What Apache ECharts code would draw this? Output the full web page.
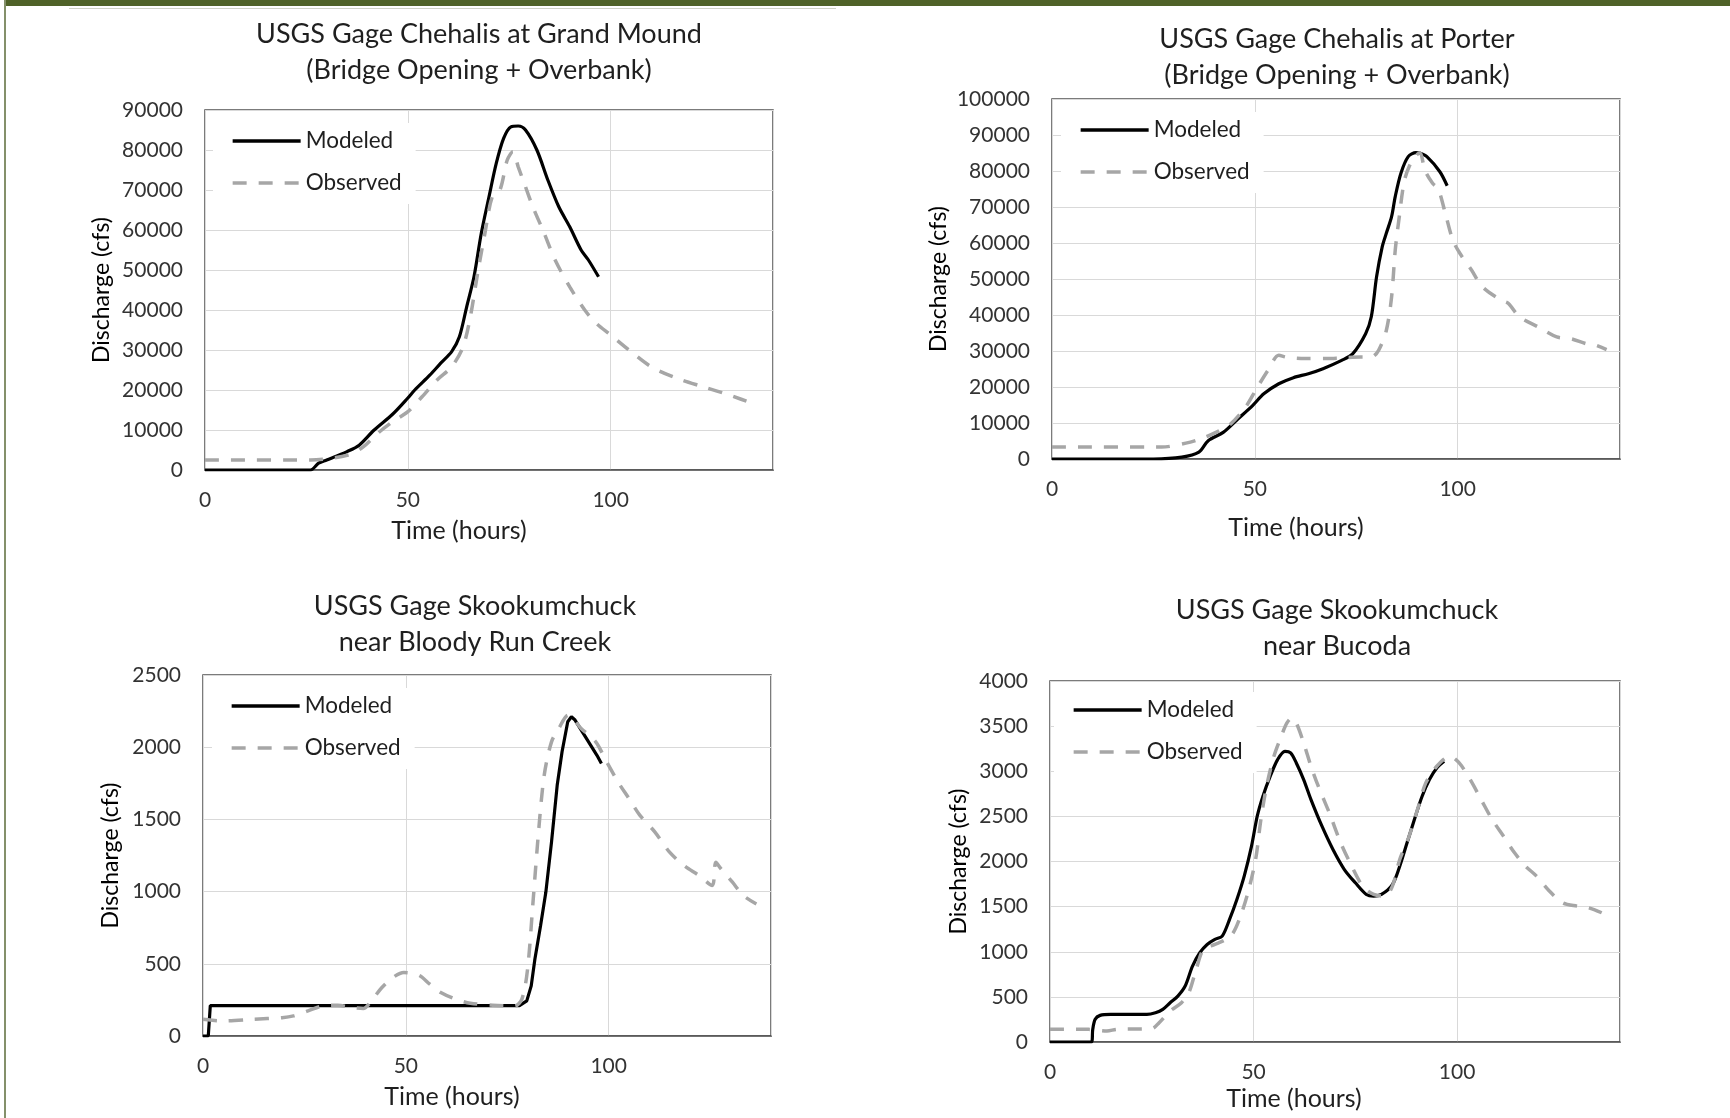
<!DOCTYPE html>
<html>
<head>
<meta charset="utf-8">
<script src="https://cdn.jsdelivr.net/npm/echarts@6/dist/echarts.min.js"></script>
<style>
html,body{margin:0;padding:0;background:#fff;}
#c{width:1730px;height:1118px;}
</style>
</head>
<body>
<div id="c"></div>
<script>
// ---------- Data (hours, cfs) ----------
// Chart 1: Chehalis at Grand Mound
const grandMoundModeledT = [0,22,26,28,30,35,38,41.7,46.3,50,51.7,55.4,58.1,60.8,62.7,64.5,66.3,68.1,70,71.8,73.6,75.4,77.2,79,81.8,84.5,87.2,89.9,92.7,94.5,97];
const grandMoundModeledQ = [0,0,0,1700,2500,4600,6200,10000,14000,18000,20000,23700,26700,29600,33300,40800,48300,59200,68300,76700,82900,85800,86000,85000,80000,72500,65800,60800,55000,52500,48300];
const grandMoundObservedT = [0,26,35.3,39,42.6,46.3,50,53.5,57.2,60.8,63.6,65.4,67.2,69,70.8,72.7,74.5,75.9,77.2,79,80.8,83.6,86.3,89.9,93.6,96.4,100,104.5,110,116.4,122.8,129.2,136];
const grandMoundObservedQ = [2500,2500,3750,5800,9200,12100,14600,18300,22500,25800,30800,38300,49200,59200,68300,70000,77500,79600,75800,70800,65800,59200,52500,45800,40000,36700,33750,30000,25800,22900,20800,18750,16250];

// Chart 2: Chehalis at Porter
const porterModeledT = [0,25,32,36.2,38.5,42.2,45.8,49.5,52.2,55.9,59.5,63.2,66.8,71.4,74.1,77.3,78.7,80,81.4,82.4,83.7,84.6,86,87.8,89.7,90.6,92.4,95.6,97.4];
const porterModeledQ = [0,0,500,1900,5100,7400,11100,14900,18100,20900,22600,23700,25100,27400,29200,34800,39500,50600,59000,62700,67300,72900,79400,84000,85100,85000,84000,79800,75900];
const porterObservedT = [0,27,33,36.7,40.4,44,47.7,50.4,53.2,55.9,57.7,62.3,67.8,71.4,76,78.7,80.5,82.4,83.7,84.6,85.6,86.9,88.8,90.6,92,93.8,95.2,97,98.8,100.6,103.4,106.1,110.7,112.5,115.2,119.8,124.4,128,131.7,133.5,136.7];
const porterObservedQ = [3300,3300,4400,5600,7400,9700,14400,19500,24600,28800,28300,27900,27900,28100,28300,28300,30200,35700,45000,58000,67300,77500,83000,85000,80000,76600,75000,68000,60800,57000,52500,47800,44100,43200,39500,36700,33900,33400,32000,31800,30400];

// Chart 3: Skookumchuck near Bloody Run Creek
const bloodyRunModeledT = [0,1.3,1.8,78,79.8,80.9,81.8,83.2,84.5,85.9,87.3,88.5,89.9,90.8,91.7,93.5,95.3,97.1,98.2];
const bloodyRunModeledQ = [0,0,210,210,243,347,532,764,995,1343,1736,1968,2176,2211,2188,2106,2025,1944,1887];
const bloodyRunObservedT = [0,5,12.3,19.5,22.3,25.9,29.5,33.2,36.8,39.5,41.8,44.1,46.8,49.5,53.2,55.9,58.6,62.3,65.9,71.4,76.8,78.6,80,81.4,82.7,84.1,85.9,87.7,90,93.2,96.8,99.5,102.3,105,107.7,111.4,115,118.6,122.3,125.5,126.4,127.7,130.5,133.2,136.4];
const bloodyRunObservedQ = [116,104,116,127,139,174,208,213,197,190,255,336,405,440,421,359,301,255,227,213,208,255,463,949,1412,1806,2037,2130,2222,2130,2037,1898,1759,1644,1528,1412,1273,1180,1111,1042,1204,1157,1065,972,914];

// Chart 4: Skookumchuck near Bucoda
const bucodaModeledT = [0,10.2,10.5,11.1,12.3,14.9,23.8,25.9,27.7,29.5,31.4,33.2,35,36.8,38.6,40.5,42.3,44.1,45.9,47.7,49.5,50.9,52.3,54.1,55.9,57.7,59.1,60.5,62.3,64.1,66.8,69.5,72.3,75,77.7,79.5,81.4,84.1,85.9,87.7,89.5,91.4,93.2,95,96.8];
const bucodaModeledQ = [0,0,140,251,295,306,306,325,362,435,509,620,841,989,1081,1137,1173,1358,1579,1838,2170,2502,2723,2945,3129,3221,3203,3092,2908,2686,2391,2133,1911,1764,1635,1616,1635,1745,1948,2207,2465,2723,2908,3037,3111];
const bucodaObservedT = [0,9.5,14,16.4,25,26.8,29.5,32.3,34.1,35.9,37.7,40.5,43.2,45,46.8,48.6,50.5,51.8,53.2,55,56.8,58.2,59.4,60.5,62.3,64.1,65.9,68.6,71.4,74.1,76.8,79.5,82.3,84.1,85.9,88.2,90.5,92.3,95,98.2,100.5,103.2,105.9,108.6,111.4,114.1,116.8,119.5,122.3,125.9,129.5,132.3,135.5];
const bucodaObservedQ = [140,140,122,140,148,214,343,435,546,804,1026,1081,1137,1210,1395,1653,2022,2465,2834,3166,3387,3535,3590,3535,3314,3055,2834,2539,2207,1948,1727,1635,1616,1727,2022,2280,2613,2871,3055,3166,3092,2908,2686,2465,2280,2096,1948,1838,1690,1542,1505,1487,1432];

// Titles and axis ticks
const chartTitles = [
  'USGS Gage Chehalis at Grand Mound\n(Bridge Opening + Overbank)',
  'USGS Gage Chehalis at Porter\n(Bridge Opening + Overbank)',
  'USGS Gage Skookumchuck\nnear Bloody Run Creek',
  'USGS Gage Skookumchuck\nnear Bucoda'
];
const yMax = [90000, 100000, 2500, 4000];
const yStep = [10000, 10000, 500, 500];
const xMax = 140, xStep = 50;
const seriesNames = ['Modeled', 'Observed'];

// ---------- Layout ----------
const grids = [
  {left:205, top:110, width:568, height:360},
  {left:1052, top:99, width:568, height:360},
  {left:203, top:675, width:568, height:361},
  {left:1050, top:681, width:570, height:361}
];
const titlePos = [{x:479,y:16},{x:1337,y:21},{x:475,y:588},{x:1337,y:592}];
const legendPos = [{x:213,y:123},{x:1061,y:112},{x:212,y:688},{x:1054,y:692}];
const yNameGap = [92, 102, 81, 80];
const xNameGap = [48, 56, 48, 44];
const xNameShift = [60, 80, 70, 82];

const FONT = 'Lato, "Open Sans", sans-serif';
const pairs = (t, q) => t.map((x, i) => [x, q[i]]);

const data = [
  [pairs(grandMoundModeledT, grandMoundModeledQ), pairs(grandMoundObservedT, grandMoundObservedQ)],
  [pairs(porterModeledT, porterModeledQ), pairs(porterObservedT, porterObservedQ)],
  [pairs(bloodyRunModeledT, bloodyRunModeledQ), pairs(bloodyRunObservedT, bloodyRunObservedQ)],
  [pairs(bucodaModeledT, bucodaModeledQ), pairs(bucodaObservedT, bucodaObservedQ)]
];

const option = {
  animation: false,
  backgroundColor: '#ffffff',
  textStyle: {fontFamily: FONT},
  graphic: [
    {type:'rect', shape:{x:4, y:0, width:1726, height:6}, style:{fill:'#4f6228'}, silent:true},
    {type:'rect', shape:{x:4, y:0, width:2, height:1118}, style:{fill:'#84906a'}, silent:true},
    {type:'rect', shape:{x:69, y:8, width:767, height:1}, style:{fill:'#cfd2c6'}, silent:true}
  ],
  title: chartTitles.map((t, i) => ({
    text: t, left: titlePos[i].x, top: titlePos[i].y, textAlign: 'center', padding: 0,
    textStyle: {fontFamily: FONT, fontSize: 27, fontWeight: 'normal', color: '#1f1f1f', lineHeight: 36}
  })),
  legend: legendPos.map((p, i) => ({
    left: p.x, top: p.y, orient: 'vertical',
    data: seriesNames,
    backgroundColor: '#ffffff',
    padding: [5, 14, 8, 18],
    itemWidth: 68, itemHeight: 14, itemGap: 16,
    lineStyle: {width: 3.3},
    itemStyle: {opacity: 0, borderWidth: 0},
    textStyle: {fontFamily: FONT, fontSize: 22.5, color: '#1f1f1f', lineHeight: 26},
    selectedMode: false
  })),
  grid: grids.map(g => Object.assign({show: true, borderColor: '#505050', borderWidth: 1.5, containLabel: false}, g)),
  xAxis: grids.map((g, i) => ({
    type: 'value', gridIndex: i, min: 0, max: xMax, interval: xStep,
    name: 'Time (hours)', nameLocation: 'middle', nameGap: xNameGap[i],
    nameTextStyle: {fontFamily: FONT, fontSize: 25, color: '#1f1f1f', padding: [0, xNameShift[i], 0, 0]},
    axisLine: {show: true, lineStyle: {color: '#505050', width: 1.5}},
    axisTick: {show: false},
    axisLabel: {fontFamily: FONT, fontSize: 21, color: '#333333', margin: 20, showMaxLabel: false},
    splitLine: {show: true, lineStyle: {color: '#d9d9d9', width: 1}}
  })),
  yAxis: grids.map((g, i) => ({
    type: 'value', gridIndex: i, min: 0, max: yMax[i], interval: yStep[i],
    name: 'Discharge (cfs)', nameLocation: 'middle', nameGap: yNameGap[i],
    nameTextStyle: {fontFamily: FONT, fontSize: 23, color: '#000000'},
    axisLine: {show: false},
    axisTick: {show: false},
    axisLabel: {fontFamily: FONT, fontSize: 21, color: '#333333', margin: 22, formatter: v => String(v)},
    splitLine: {show: true, lineStyle: {color: '#d9d9d9', width: 1}}
  })),
  series: []
};

data.forEach((d, i) => {
  option.series.push({
    name: 'Modeled', type: 'line', xAxisIndex: i, yAxisIndex: i, data: d[0],
    symbol: 'none', showSymbol: false, smooth: i === 2 ? false : 0.3,
    lineStyle: {color: '#000000', width: 3.2}, itemStyle: {color: '#000000'}
  });
  option.series.push({
    name: 'Observed', type: 'line', xAxisIndex: i, yAxisIndex: i, data: d[1],
    symbol: 'none', showSymbol: false, smooth: 0.3,
    lineStyle: {color: '#a6a6a6', width: 3.5, type: [14, 12]}, itemStyle: {color: '#a6a6a6'}
  });
});

const chart = echarts.init(document.getElementById('c'), null, {renderer: 'canvas'});
chart.setOption(option);
</script>
</body>
</html>
